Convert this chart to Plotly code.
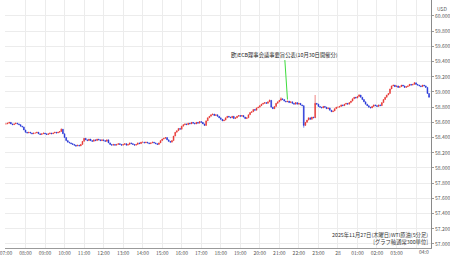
import plotly.graph_objects as go
import pandas as pd

# ---- data (5-minute candles, WTI) ----
start_time = "2025-11-27 07:00"
open0 = 58.58
close = [
    58.58, 58.59, 58.60, 58.58, 58.57, 58.58, 58.59, 58.58, 58.57, 58.55, 58.54, 58.50,  # 07
    58.47, 58.46, 58.47, 58.46, 58.45, 58.46, 58.46, 58.47, 58.45, 58.44, 58.45, 58.46,  # 08
    58.45, 58.44, 58.45, 58.46, 58.45, 58.46, 58.47, 58.46, 58.47, 58.48, 58.51, 58.45,  # 09
    58.40, 58.36, 58.34, 58.33, 58.32, 58.31, 58.30, 58.29, 58.30, 58.29, 58.31, 58.35,  # 10
    58.39, 58.37, 58.36, 58.38, 58.36, 58.35, 58.37, 58.36, 58.38, 58.37, 58.36, 58.37,  # 11
    58.36, 58.35, 58.37, 58.33, 58.31, 58.30, 58.31, 58.30, 58.31, 58.32, 58.31, 58.30,  # 12
    58.31, 58.32, 58.30, 58.31, 58.33, 58.32, 58.31, 58.30, 58.31, 58.33, 58.32, 58.34,  # 13
    58.34, 58.33, 58.34, 58.33, 58.32, 58.33, 58.34, 58.33, 58.32, 58.31, 58.33, 58.36,  # 14
    58.38, 58.39, 58.40, 58.37, 58.35, 58.34, 58.36, 58.42, 58.47, 58.49, 58.52, 58.51,  # 15
    58.55, 58.57, 58.58, 58.57, 58.59, 58.58, 58.60, 58.59, 58.58, 58.60, 58.59, 58.61,  # 16
    58.60, 58.58, 58.56, 58.62, 58.66, 58.68, 58.70, 58.71, 58.69, 58.70, 58.68, 58.66,  # 17
    58.64, 58.62, 58.63, 58.66, 58.68, 58.67, 58.66, 58.68, 58.65, 58.66, 58.68, 58.69,  # 18
    58.68, 58.69, 58.67, 58.65, 58.66, 58.70, 58.73, 58.74, 58.77, 58.76, 58.79, 58.80,  # 19
    58.82, 58.84, 58.85, 58.86, 58.85, 58.87, 58.89, 58.80, 58.78, 58.81, 58.85, 58.87,  # 20
    58.89, 58.91, 58.90, 58.88, 58.87, 58.88, 58.86, 58.87, 58.85, 58.84, 58.86, 58.84,  # 21
    58.85, 58.83, 58.82, 58.56, 58.60, 58.63, 58.66, 58.64, 58.67, 58.66, 58.85, 58.84,  # 22
    58.81, 58.80, 58.79, 58.81, 58.80, 58.78, 58.79, 58.76, 58.74, 58.75, 58.78, 58.80,  # 23
    58.80, 58.81, 58.83, 58.82, 58.84, 58.85, 58.84, 58.86, 58.88, 58.91, 58.93, 58.92,  # 00
    58.94, 58.96, 58.93, 58.90, 58.87, 58.84, 58.82, 58.80, 58.79, 58.81, 58.83, 58.82,  # 01
    58.81, 58.83, 58.82, 58.86, 58.90, 58.93, 58.96, 58.98, 59.04, 59.08, 59.09, 59.07,  # 02
    59.08, 59.06, 59.07, 59.09, 59.08, 59.06, 59.07, 59.08, 59.10, 59.09, 59.10, 59.12,  # 03
    59.10, 59.09, 59.08, 59.07, 59.09, 59.08, 59.06, 58.98, 58.93,                      # 04
]
# visible wicks (candle index -> price)
wick_high = {34: 58.52, 162: 58.90, 169: 58.93, 190: 58.96, 217: 58.97, 251: 59.13}
wick_low = {43: 58.28, 183: 58.53}

hour_ticks = pd.date_range("2025-11-27 07:00", "2025-11-28 04:00", freq="h")
hour_labels = [("28" if t.hour == 0 else t.strftime("%H:%M")) for t in hour_ticks]
hour_labels[-1] = ""
y_ticks = [57.0 + 0.2 * i for i in range(16)]
y_labels = [f"{v:.3f}" for v in y_ticks]

event_text = "欧)ECB理事会議事要旨公表(10月30日開催分)"
event_time = "2025-11-27 21:25"
event_price = 58.90
caption = "2025年11月27日(木曜日)WTI原油(5分足)<br>[グラフ軸通常300単位]"

# ---- build ----
times = pd.date_range(start_time, periods=len(close), freq="5min")
opens = [open0] + close[:-1]
highs = [max(o, c) for o, c in zip(opens, close)]
lows = [min(o, c) for o, c in zip(opens, close)]
for i, v in wick_high.items():
    highs[i] = v
for i, v in wick_low.items():
    lows[i] = v

RED = "#e8322f"
BLUE = "#2132d6"
FONT = "Noto Sans CJK JP"

fig = go.Figure(go.Candlestick(
    x=times, open=opens, high=highs, low=lows, close=close,
    increasing=dict(line=dict(color=RED, width=0.6), fillcolor=RED),
    decreasing=dict(line=dict(color=BLUE, width=0.6), fillcolor=BLUE),
    whiskerwidth=0, hoverinfo="skip",
))

fig.update_layout(
    width=450, height=258,
    margin=dict(l=0, r=18, t=0, b=10),
    paper_bgcolor="white", plot_bgcolor="white",
    showlegend=False,
    font=dict(family=FONT, size=5, color="#555"),
    xaxis=dict(
        rangeslider=dict(visible=False),
        range=["2025-11-27 06:57", "2025-11-28 04:46"],
        tickvals=hour_ticks, ticktext=hour_labels,
        ticklabeloverflow="allow",
        showgrid=True, gridcolor="#ececec", gridwidth=1,
        showline=True, linecolor="#9a9a9a", linewidth=1,
        ticks="", tickfont=dict(size=5, color="#555"),
        zeroline=False,
    ),
    yaxis=dict(
        side="right",
        range=[56.947, 60.21],
        tickvals=y_ticks, ticktext=y_labels,
        showgrid=True, gridcolor="#ececec", gridwidth=1,
        showline=True, linecolor="#8a8a8a", linewidth=1,
        ticks="outside", ticklen=2, tickcolor="#9a9a9a",
        tickfont=dict(size=5, color="#555"),
        zeroline=False,
    ),
    annotations=[
        dict(x=event_time, y=event_price, xref="x", yref="y",
             text=event_text, showarrow=True, arrowhead=0, arrowwidth=1,
             arrowcolor="#3ddc3d", ax=-3, ay=-45, standoff=0,
             font=dict(size=5.3, color="#222", family=FONT)),
        dict(xref="paper", yref="paper", x=1, y=1, xanchor="left", yanchor="top",
             xshift=4, yshift=-3, text="USD", showarrow=False,
             font=dict(size=5, color="#555", family=FONT)),
        dict(xref="paper", yref="paper", x=1, y=0, xanchor="right", yanchor="top",
             yshift=2, text="04:0", showarrow=False,
             font=dict(size=5, color="#555", family=FONT)),
        dict(xref="paper", yref="paper", x=1, y=0, xanchor="right", yanchor="bottom",
             xshift=-1, yshift=0, text=caption, showarrow=False, align="right",
             font=dict(size=5.3, color="#333", family=FONT)),
    ],
)

fig.write_html("out.html")
